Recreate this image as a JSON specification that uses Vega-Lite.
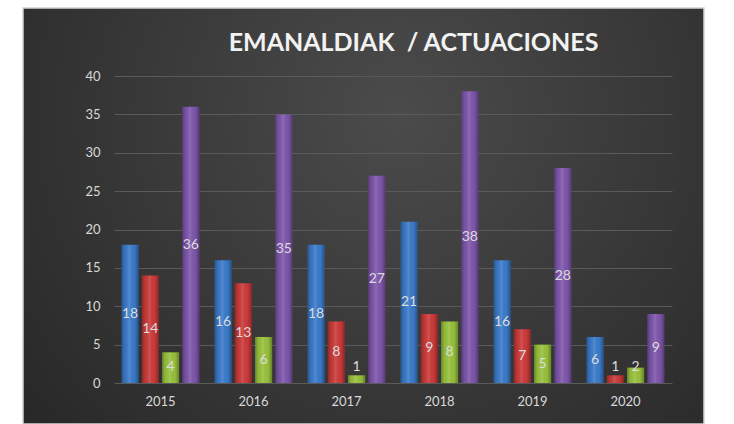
{
  "$schema": "https://vega.github.io/schema/vega-lite/v6.json",
  "width": 681,
  "height": 416,
  "autosize": {"type": "none"},
  "padding": {"left": 23, "top": 8, "right": 30, "bottom": 0},
  "background": "white",
  "view": {
    "fill": {
      "gradient": "radial",
      "x1": 0.55, "y1": 0.35, "r1": 0,
      "x2": 0.55, "y2": 0.35, "r2": 0.75,
      "stops": [
        {"offset": 0, "color": "#4b4b4b"},
        {"offset": 1, "color": "#262626"}
      ]
    },
    "stroke": "#d4d4d4",
    "strokeWidth": 1.5
  },
  "title": {
    "text": "EMANALDIAK \u00a0/ ACTUACIONES",
    "orient": "top",
    "anchor": "middle",
    "frame": "group",
    "baseline": "middle",
    "offset": -60,
    "dx": 50,
    "font": "Lato",
    "fontSize": 25,
    "fontWeight": "bold",
    "color": "#f2f2f2"
  },
  "data": {
    "values": [
      {"year": "2015", "series": "s1", "value": 18},
      {"year": "2015", "series": "s2", "value": 14},
      {"year": "2015", "series": "s3", "value": 4},
      {"year": "2015", "series": "s4", "value": 36},
      {"year": "2016", "series": "s1", "value": 16},
      {"year": "2016", "series": "s2", "value": 13},
      {"year": "2016", "series": "s3", "value": 6},
      {"year": "2016", "series": "s4", "value": 35},
      {"year": "2017", "series": "s1", "value": 18},
      {"year": "2017", "series": "s2", "value": 8},
      {"year": "2017", "series": "s3", "value": 1},
      {"year": "2017", "series": "s4", "value": 27},
      {"year": "2018", "series": "s1", "value": 21},
      {"year": "2018", "series": "s2", "value": 9},
      {"year": "2018", "series": "s3", "value": 8},
      {"year": "2018", "series": "s4", "value": 38},
      {"year": "2019", "series": "s1", "value": 16},
      {"year": "2019", "series": "s2", "value": 7},
      {"year": "2019", "series": "s3", "value": 5},
      {"year": "2019", "series": "s4", "value": 28},
      {"year": "2020", "series": "s1", "value": 6},
      {"year": "2020", "series": "s2", "value": 1},
      {"year": "2020", "series": "s3", "value": 2},
      {"year": "2020", "series": "s4", "value": 9}
    ]
  },
  "encoding": {
    "x": {
      "field": "year",
      "type": "nominal",
      "scale": {"range": [91, 649], "paddingInner": 0.164, "paddingOuter": 0.082},
      "axis": {
        "title": null,
        "orient": "bottom",
        "offset": -41,
        "domain": false,
        "ticks": false,
        "labelAngle": 0,
        "labelPadding": 12,
        "labelFont": "Lato",
        "labelFontSize": 13,
        "labelColor": "#d9d9d9",
        "grid": false
      }
    },
    "xOffset": {
      "field": "series",
      "type": "nominal",
      "scale": {"domain": ["s1", "s2", "s3", "s4"], "paddingInner": 0.16, "paddingOuter": 0}
    }
  },
  "layer": [
    {
      "mark": {"type": "bar"},
      "encoding": {
        "y": {
          "field": "value",
          "type": "quantitative",
          "scale": {"domain": [0, 40], "range": [375, 68], "nice": false},
          "axis": {
            "title": null,
            "offset": -91,
            "domain": false,
            "ticks": false,
            "labelPadding": 14,
            "values": [0, 5, 10, 15, 20, 25, 30, 35, 40],
            "labelFont": "Lato",
            "labelFontSize": 13,
            "labelColor": "#d9d9d9",
            "grid": true,
            "gridColor": "#5a5a5a",
            "gridWidth": 1
          }
        },
        "color": {
          "field": "series",
          "type": "nominal",
          "scale": {"domain": ["s1", "s2", "s3", "s4"], "range": ["#3a7bcb", "#cc3a3a", "#98c23c", "#7f56ad"]},
          "legend": null
        }
      }
    },
    {
      "mark": {
        "type": "bar",
        "fill": {
          "gradient": "linear",
          "x1": 0, "y1": 0, "x2": 1, "y2": 0,
          "stops": [
            {"offset": 0, "color": "rgba(0,0,0,0.28)"},
            {"offset": 0.2, "color": "rgba(0,0,0,0.05)"},
            {"offset": 0.45, "color": "rgba(255,255,255,0.12)"},
            {"offset": 0.75, "color": "rgba(0,0,0,0.02)"},
            {"offset": 1, "color": "rgba(0,0,0,0.32)"}
          ]
        }
      },
      "encoding": {
        "y": {"field": "value", "type": "quantitative"}
      }
    },
    {
      "transform": [{"calculate": "max(datum.value / 2, 2.1)", "as": "labelPos"}],
      "mark": {"type": "text", "font": "Lato", "fontSize": 14, "color": "#dcdcdc", "align": "center", "baseline": "middle"},
      "encoding": {
        "y": {"field": "labelPos", "type": "quantitative"},
        "text": {"field": "value", "type": "quantitative"}
      }
    }
  ]
}
